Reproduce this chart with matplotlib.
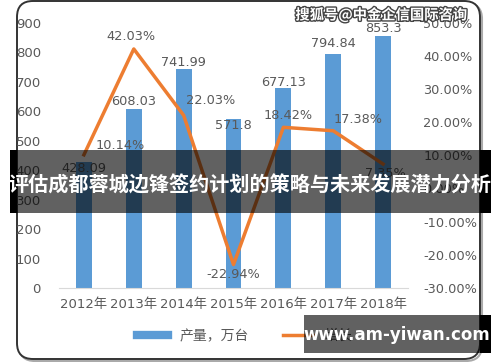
import matplotlib
matplotlib.use("Agg")
import matplotlib.pyplot as plt
import matplotlib.patheffects as pe
from matplotlib.patches import FancyBboxPatch, Rectangle
from matplotlib.lines import Line2D

plt.rcParams['font.family'] = ['DejaVu Sans', 'Noto Sans CJK SC']

years = ["2012年", "2013年", "2014年", "2015年", "2016年", "2017年", "2018年"]
output = [428.09, 608.03, 741.99, 571.8, 677.13, 794.84, 853.3]
output_labels = ["428.09", "608.03", "741.99", "571.8", "677.13", "794.84", "853.3"]
growth = [10.14, 42.03, 22.03, -22.94, 18.42, 17.38, 7.35]

# label nudges in pixels (the original chart had a few moved by hand)
bar_dy = [-7, 7, 7, -6, 6, 10, 8]
line_dxy = [(36, 9), (-3, 12), (27, 15), (0, -10), (5, 12), (25, 11), (2, -9)]

BLUE = "#5B9BD5"
ORANGE = "#ED7D31"
GREY = "#595959"

fig = plt.figure(figsize=(5, 3.62), dpi=100)

# --- background frame (pixel coords) ---
bg = fig.add_axes([0, 0, 1, 1], zorder=-1)
bg.set_xlim(0, 500)
bg.set_ylim(362, 0)
bg.axis("off")
bg.add_patch(FancyBboxPatch((19, 3), 463, 358, boxstyle="round,pad=0,rounding_size=16",
                            fc="none", ec="#aaaaaa", lw=1.5))
bg.add_patch(FancyBboxPatch((17, 1), 463, 358, boxstyle="round,pad=0,rounding_size=16",
                            fc="white", ec="#333333", lw=1.4))

# --- main chart ---
ax = fig.add_axes([0.118, 0.2044, 0.698, 0.7334])
ax.patch.set_alpha(0)
x = range(len(years))
bars = ax.bar(x, output, width=0.32, color=BLUE, zorder=2)
ax.set_xlim(-0.5, len(years) - 0.5)
ax.set_ylim(0, 900)
ax.set_yticks(range(0, 901, 100))
ax.set_xticks(list(x))
ax.set_xticklabels(years)
for s in ["top", "right", "left"]:
    ax.spines[s].set_visible(False)
ax.spines["bottom"].set_color("#d9d9d9")
ax.tick_params(length=0, labelsize=9.5, labelcolor=GREY)
ax.tick_params(axis="y", pad=13)
ax.tick_params(axis="x", pad=7)
for xi, v, lab, dy in zip(x, output, output_labels, bar_dy):
    ax.annotate(lab, (xi, v), xytext=(0, dy), textcoords="offset pixels",
                ha="center", va="center", fontsize=9.3, color=GREY, zorder=5)

ax2 = ax.twinx()
ax2.plot(list(x), growth, color=ORANGE, lw=2.5, zorder=3)
ax2.set_ylim(-30, 50)
ax2.set_yticks(range(-30, 51, 10))
ax2.set_yticklabels([f"{t:.2f}%" for t in range(-30, 51, 10)])
for s in ["top", "right", "left", "bottom"]:
    ax2.spines[s].set_visible(False)
ax2.tick_params(length=0, labelsize=9.3, labelcolor=GREY, pad=11)
for xi, g, (dx, dy) in zip(x, growth, line_dxy):
    ax2.annotate(f"{g:.2f}%", (xi, g), xytext=(dx, dy), textcoords="offset pixels",
                 ha="center", va="center", fontsize=9.3, color=GREY, zorder=5)

handles = [Line2D([], [], color=BLUE, lw=6), Line2D([], [], color=ORANGE, lw=2.5)]
fig.legend(handles, ["产量，万台", "增长"], loc="center", bbox_to_anchor=(0.49, 0.072),
           ncol=2, frameon=False, fontsize=10, labelcolor=GREY, handlelength=2.2,
           columnspacing=2.5)

# --- overlays (pixel coords) ---
ov = fig.add_axes([0, 0, 1, 1], zorder=10)
ov.set_xlim(0, 500)
ov.set_ylim(362, 0)
ov.axis("off")
ov.patch.set_alpha(0)

ov.text(381, 15, "搜狐号@中金企信国际咨询", ha="center", va="center", fontsize=10.3,
        family=["Noto Sans CJK SC"], fontweight="bold", color="white",
        path_effects=[pe.withStroke(linewidth=2, foreground="#444444")])

ov.add_patch(Rectangle((10, 150), 481, 63, fc="black", alpha=0.62, lw=0))
ov.add_patch(Rectangle((10, 150), 7, 63, fc="black", lw=0))
ov.add_patch(Rectangle((480, 150), 11, 63, fc="black", lw=0))
ov.text(250, 185, "评估成都蓉城边锋签约计划的策略与未来发展潜力分析", ha="center", va="center",
        fontsize=14.5, family=["Noto Sans CJK SC"], fontweight="bold", color="white")

ov.add_patch(Rectangle((304, 315), 187, 38, fc="black", alpha=0.62, lw=0))
ov.add_patch(Rectangle((480, 315), 11, 38, fc="black", lw=0))
ov.text(397, 335, "www.am-yiwan.com", ha="center", va="center", fontsize=12,
        fontweight="bold", color="white")

fig.savefig("out.png", dpi=100)
